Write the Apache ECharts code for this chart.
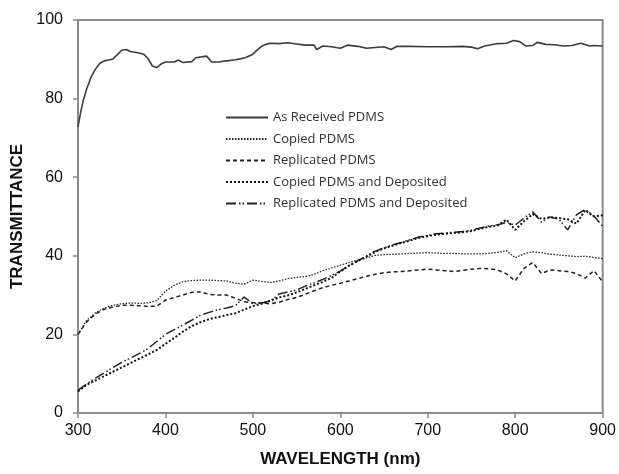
<!DOCTYPE html>
<html>
<head>
<meta charset="utf-8">
<script src="https://cdn.jsdelivr.net/npm/echarts@6/dist/echarts.min.js"></script>
<style>
html,body{margin:0;padding:0;background:#fff;}
#chart{width:619px;height:474px;}
</style>
</head>
<body>
<div id="chart"></div>
<script>
// ---- data ----
const seriesNames = ['As Received PDMS','Copied PDMS','Replicated PDMS','Copied PDMS and Deposited','Replicated PDMS and Deposited'];
const xTicks = [300,400,500,600,700,800,900];
const yTicks = [0,20,40,60,80,100];

const waveAsReceived = [300,303,306,310,315,320,325,330,335,340,345,350,355,360,365,370,375,380,385,390,395,400,410,415,420,430,435,440,447,453,460,470,480,490,495,500,505,510,515,520,530,540,550,560,570,573,580,590,600,608,620,630,640,650,658,665,680,700,720,740,750,757,765,780,790,798,805,812,820,825,835,845,855,865,875,885,890,900];
const asReceived = [72.8,76.5,79.5,82.5,85.5,87.5,89,89.6,89.8,90.1,91.2,92.3,92.5,92.0,91.8,91.6,91.3,90.2,88.3,87.9,88.8,89.3,89.3,89.8,89.2,89.4,90.4,90.6,90.8,89.3,89.3,89.6,89.9,90.3,90.8,91.3,92.4,93.3,93.8,94.1,94.0,94.2,93.9,93.6,93.6,92.5,93.4,93.2,92.8,93.6,93.3,92.8,93.0,93.2,92.5,93.3,93.3,93.2,93.2,93.3,93.1,92.7,93.4,94.0,94.1,94.8,94.5,93.4,93.5,94.3,93.8,93.7,93.4,93.5,94.1,93.4,93.5,93.4];

const wavelength = [300,310,320,330,340,350,360,370,380,390,400,410,420,430,440,450,460,470,480,490,500,510,520,530,540,550,560,570,580,590,600,610,620,630,640,650,660,670,680,690,700,710,720,730,740,750,760,770,780,790,800,810,820,830,840,850,860,870,880,890,900];
const copied = [20.0,23.6,25.5,26.7,27.4,27.8,28.0,27.9,28.0,28.6,
  31.0,32.5,33.4,33.7,33.8,33.8,33.7,33.6,33.0,32.8,
  33.8,33.5,33.2,33.6,34.2,34.5,34.7,35.3,36.2,36.9,
  37.6,38.3,38.9,39.5,40.1,40.3,40.4,40.5,40.6,40.7,
  40.8,40.7,40.6,40.6,40.5,40.5,40.5,40.6,40.9,41.3,
  39.5,40.5,41.0,40.8,40.4,40.2,40.0,39.8,39.9,39.6,
  39.3];
const replicated = [20.0,23.2,25.2,26.4,27.0,27.4,27.4,27.3,27.1,27.2,
  28.7,29.4,30.0,30.7,30.8,30.2,30.0,30.0,29.2,28.3,
  28.1,28.0,27.8,28.2,28.9,29.4,30.2,31.1,31.9,32.5,
  33.0,33.6,34.2,34.8,35.3,35.7,35.9,36.0,36.2,36.4,
  36.6,36.4,36.2,36.0,36.3,36.6,36.8,36.7,36.4,35.4,
  33.6,36.8,38.3,35.5,36.4,36.2,36.0,35.5,34.3,36.2,
  33.4];
const copiedDep = [5.5,7.2,8.3,9.4,10.5,11.6,12.7,13.8,14.9,16.0,
  17.6,19.1,20.7,22.1,23.1,23.9,24.4,24.9,25.4,26.3,
  27.2,27.8,28.6,29.4,29.9,30.7,31.6,32.5,33.4,34.4,
  36.0,37.5,38.7,39.8,41.0,41.9,42.6,43.3,43.9,44.6,
  45.0,45.4,45.6,45.8,46.0,46.3,46.9,47.4,47.7,49.2,
  46.6,48.8,50.6,49.4,49.8,49.6,49.3,48.2,51.6,50.0,
  50.3];
const replicatedDep = [5.8,7.4,8.9,10.2,11.6,12.9,14.0,15.1,16.4,18.2,
  20.0,21.2,22.4,23.6,24.9,25.6,26.3,26.7,27.3,29.5,
  27.8,28.0,28.5,30.3,30.8,31.3,32.3,33.1,34.0,35.0,
  36.1,37.5,38.7,40.0,41.2,42.0,42.8,43.4,44.1,44.8,
  45.2,45.6,45.8,46.0,46.2,46.5,47.1,47.6,47.9,48.5,
  47.8,49.6,51.2,48.6,49.9,49.3,46.6,50.4,51.8,50.1,
  47.5];

function pairs(xs, ys){ return xs.map((x,i)=>[x, ys[i]]); }

const chart = echarts.init(document.getElementById('chart'), null, {renderer:'canvas'});
const axisGray = '#8c8c8c';
const lineStyles = [
  {color:'#3c3c3c', width:1.6, type:'solid'},
  {color:'#222', width:1.3, type:[1.5,1.5]},
  {color:'#222', width:1.5, type:[4,3]},
  {color:'#111', width:2, type:[2,2]},
  {color:'#222', width:1.5, type:[10,3,1.5,2,1.5,3]}
];
const dataSets = [
  pairs(waveAsReceived, asReceived),
  pairs(wavelength, copied),
  pairs(wavelength, replicated),
  pairs(wavelength, copiedDep),
  pairs(wavelength, replicatedDep)
];

chart.setOption({
  animation:false,
  backgroundColor:'#fff',
  grid:{left:78,right:16,top:20,bottom:61,show:true,borderColor:axisGray,borderWidth:2,backgroundColor:'transparent'},
  legend:{
    orient:'vertical', left:225, top:111, padding:0,
    itemWidth:42, itemHeight:14, itemGap:8.5,
    itemStyle:{opacity:0},
    textStyle:{fontFamily:'Open Sans', fontSize:13, color:'#333'},
    data:seriesNames
  },
  xAxis:{
    type:'value', min:xTicks[0], max:xTicks[xTicks.length-1], interval:100,
    name:'WAVELENGTH (nm)', nameLocation:'middle', nameGap:38,
    nameTextStyle:{fontFamily:'Liberation Sans', fontWeight:'bold', fontSize:17, color:'#111'},
    axisLine:{show:true, lineStyle:{color:axisGray, width:2}},
    axisTick:{show:true, length:5, lineStyle:{color:axisGray, width:1.5}},
    axisLabel:{fontFamily:'Liberation Sans', fontSize:16, color:'#111', margin:10},
    splitLine:{show:false}
  },
  yAxis:{
    type:'value', min:yTicks[0], max:yTicks[yTicks.length-1], interval:20,
    name:'TRANSMITTANCE', nameLocation:'middle', nameGap:46, nameRotate:90,
    nameTextStyle:{fontFamily:'Liberation Sans', fontWeight:'bold', fontSize:17, color:'#111'},
    axisLine:{show:true, lineStyle:{color:axisGray, width:2}},
    axisTick:{show:true, length:5, lineStyle:{color:axisGray, width:1.5}},
    axisLabel:{fontFamily:'Liberation Sans', fontSize:16, color:'#111', margin:15},
    splitLine:{show:false}
  },
  series: seriesNames.map((n,i)=>({
    name:n, type:'line', data:dataSets[i], symbol:'none', smooth:false,
    lineStyle:lineStyles[i], itemStyle:{color:lineStyles[i].color}, z: 5-i
  }))
});
</script>
</body>
</html>
